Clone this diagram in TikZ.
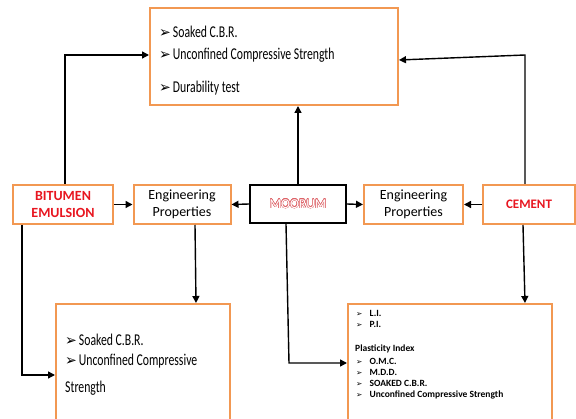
\documentclass[tikz,border=0pt]{standalone}
\usepackage{fontspec}
\usepackage{contour}
\setmainfont{Carlito}
\newfontfamily\condf[FakeStretch=0.71]{Carlito}
\newfontfamily\symf{DejaVu Sans}
\usetikzlibrary{arrows.meta}
\definecolor{obrd}{RGB}{242,152,82}
\definecolor{tred}{RGB}{232,22,32}
\definecolor{mred}{RGB}{222,100,105}
\newcommand{\bul}{{\symf\scalebox{0.85}[0.9]{➢}}}
\newcommand{\sbul}{{\symf\scalebox{0.8}{➢}}}
\contourlength{0.3pt}
\contournumber{16}
\tikzset{
  obox/.style={draw=obrd, line width=2pt, fill=white},
  kbox/.style={draw=black, line width=1.6pt, fill=white},
  conn/.style={line width=1.4pt, -{Triangle[length=7pt,width=7pt]}},
  bigt/.style={anchor=base west, inner sep=0pt, font=\condf\fontsize{16.5}{17}\selectfont},
  rt/.style={anchor=base west, inner sep=0pt, font=\fontsize{9.5}{10}\selectfont\bfseries},
}
\begin{document}
\begin{tikzpicture}[x=1pt,y=-1pt]
\useasboundingbox (0,0) rectangle (576,419);
% boxes
\draw[obox] (150,8) rectangle (398,105);
\node[obox, minimum width=100pt, minimum height=39pt, inner sep=0pt, align=center, font=\fontsize{14}{17}\selectfont\bfseries\color{tred}] (bit) at (63,204.5) {BITUMEN\\EMULSION};
\node[obox, minimum width=97pt, minimum height=39pt, inner sep=0pt, align=center, font=\fontsize{14}{16.5}\selectfont] (eng1) at (182,204.5) {Engineering\\Properties};
\node[kbox, minimum width=96pt, minimum height=38pt, inner sep=0pt, font=\fontsize{13.5}{14}\selectfont] (moo) at (298,204) {\contour{mred}{\textcolor{white}{MOORUM}}};
\node[obox, minimum width=99pt, minimum height=39pt, inner sep=0pt, align=center, font=\fontsize{14}{16.5}\selectfont] (eng2) at (413.5,204.5) {Engineering\\Properties};
\node[obox, minimum width=92pt, minimum height=39pt, inner sep=0pt, font=\fontsize{13}{14}\selectfont\bfseries\color{tred}] (cem) at (529,204.5) {CEMENT};
\draw[obox] (56,421) -- (56,304) -- (230,304) -- (230,421);
\draw[obox] (348,421) -- (348,304) -- (552,304) -- (552,421);
% top box text
\node[bigt] (t1) at (159,37.5) {\bul\hspace{2pt}Soaked C.B.R.};
\node[bigt] (t2) at (159,60) {\bul\hspace{2pt}Unconfined Compressive Strength};
\node[bigt] (t3) at (159,92.5) {\bul\hspace{2pt}Durability test};
% bottom-left text
\node[bigt] (b1) at (65,346) {\bul\hspace{2pt}Soaked C.B.R.};
\node[bigt] (b2) at (65,366) {\bul\hspace{2pt}Unconfined Compressive};
\node[bigt] (b3) at (65,393) {Strength};
% bottom-right text
\node[rt] (r1) at (356,317) {\sbul\hspace{7pt}L.I.};
\node[rt] (r2) at (356,328) {\sbul\hspace{7pt}P.I.};
\node[rt] (r3) at (355,352) {Plasticity Index};
\node[rt] (r4) at (356,365) {\sbul\hspace{7pt}O.M.C.};
\node[rt] (r5) at (356,375.5) {\sbul\hspace{7pt}M.D.D.};
\node[rt] (r6) at (356,386.5) {\sbul\hspace{7pt}SOAKED C.B.R.};
\node[rt] (r7) at (356,398) {\sbul\hspace{7pt}Unconfined Compressive Strength};
% connectors
\draw[conn] (bit.east) -- (eng1.west);
\draw[conn] (moo.west) -- (eng1.east);
\draw[conn] (moo.east) -- (eng2.west);
\draw[conn] (cem.west) -- (eng2.east);
\draw[conn] (moo.north) -- (298,106);
\draw[conn] (65,184) -- (65,55) -- (149,55);
\draw[conn] (525,184) -- (525,55) -- (399,60);
\draw[conn] (195,225) -- (196,303);
\draw[conn] (22,225) -- (22,375) -- (55,375);
\draw[conn] (286,224) -- (289,363) -- (347,363);
\draw[conn] (523,225) -- (525,303);
\end{tikzpicture}
\end{document}
